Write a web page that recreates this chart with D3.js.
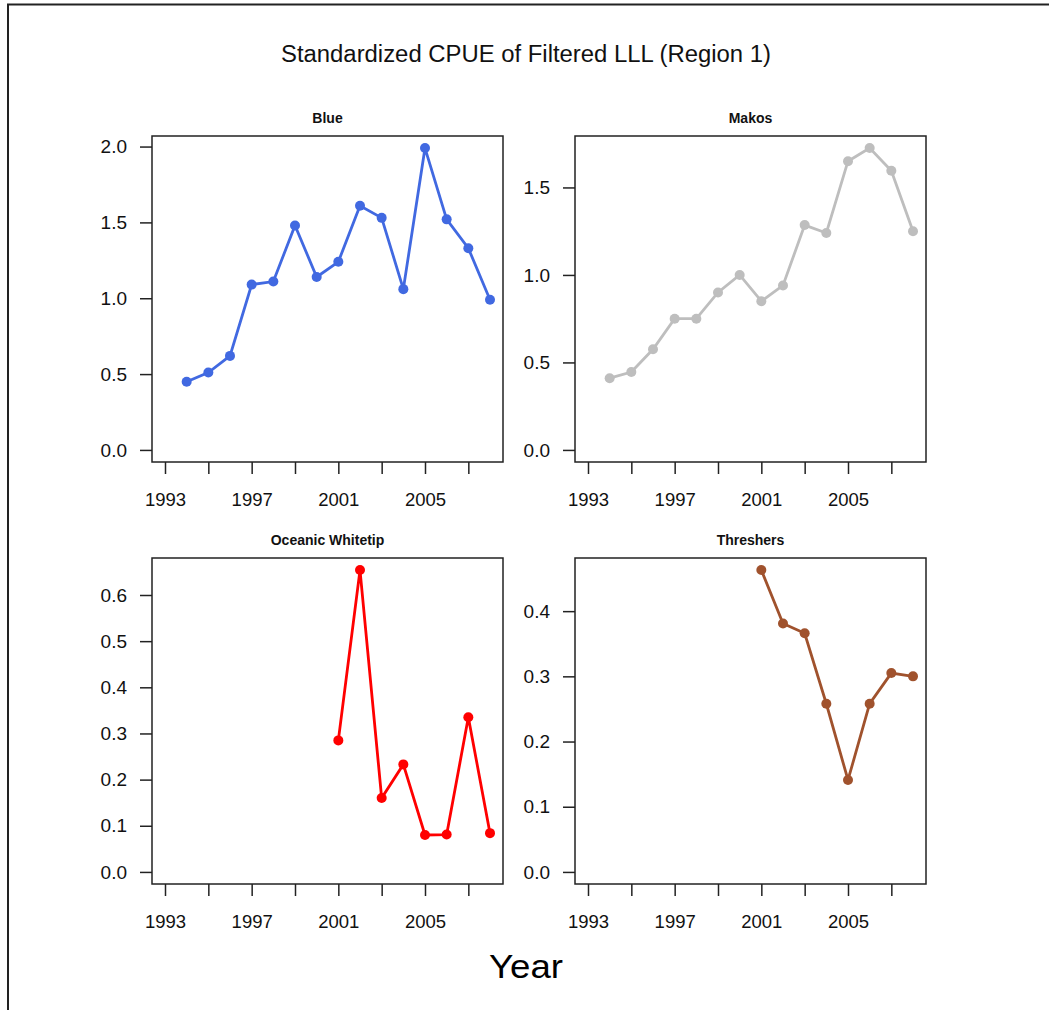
<!DOCTYPE html>
<html>
<head>
<meta charset="utf-8">
<script src="https://cdn.jsdelivr.net/npm/d3@7"></script>
<style>
    body { margin: 0; background: #fff; }
    svg { display: block; font-family: 'Liberation Sans', Arial, sans-serif; }
</style>
</head>
<body>
<div id="chart"></div>
<script>
// Data
const panelNames = ['Blue', 'Makos', 'Oceanic Whitetip', 'Threshers'];
const panelColors = ['#4169E1', '#BEBEBE', '#FF0000', '#A0522D'];

const blueYears = [1994, 1995, 1996, 1997, 1998, 1999, 2000, 2001, 2002, 2003, 2004, 2005, 2006, 2007, 2008];
const blueValues = [0.45, 0.51, 0.62, 1.09, 1.11, 1.48, 1.14, 1.24, 1.61, 1.53, 1.06, 1.99, 1.52, 1.33, 0.99];

const makosYears = [1994, 1995, 1996, 1997, 1998, 1999, 2000, 2001, 2002, 2003, 2004, 2005, 2006, 2007, 2008];
const makosValues = [0.41, 0.445, 0.575, 0.75, 0.75, 0.90, 1.00, 0.85, 0.94, 1.285, 1.24, 1.65, 1.725, 1.595, 1.25];

const whitetipYears = [2001, 2002, 2003, 2004, 2005, 2006, 2007, 2008];
const whitetipValues = [0.285, 0.654, 0.160, 0.233, 0.080, 0.081, 0.335, 0.084];

const threshersYears = [2001, 2002, 2003, 2004, 2005, 2006, 2007, 2008];
const threshersValues = [0.463, 0.381, 0.366, 0.258, 0.141, 0.258, 0.305, 0.300];

const yTicks = [
    [0, 0.5, 1.0, 1.5, 2.0],
    [0, 0.5, 1.0, 1.5],
    [0, 0.1, 0.2, 0.3, 0.4, 0.5, 0.6],
    [0, 0.1, 0.2, 0.3, 0.4]
];
const xTicks = [1993, 1995, 1997, 1999, 2001, 2003, 2005, 2007];
const xTickLabels = [1993, 1997, 2001, 2005];
const xLimits = [1993, 2008];

const mainTitle = 'Standardized CPUE of Filtered LLL (Region 1)';
const xAxisTitle = 'Year';

const series = [
    { years: blueYears, values: blueValues },
    { years: makosYears, values: makosValues },
    { years: whitetipYears, values: whitetipValues },
    { years: threshersYears, values: threshersValues }
];

// SVG container
const width = 1049, height = 1010;
const svg = d3.select('#chart')
    .append('svg')
    .attr('width', width)
    .attr('height', height);

// Outer frame (only top and left edges show in the picture)
svg.append('rect')
    .attr('x', 8)
    .attr('y', 4.5)
    .attr('width', width + 20)
    .attr('height', height + 20)
    .attr('fill', 'none')
    .attr('stroke', '#222')
    .attr('stroke-width', 2);

// Main title
svg.append('text')
    .attr('x', 526)
    .attr('y', 62)
    .attr('text-anchor', 'middle')
    .attr('font-size', 23)
    .attr('fill', '#111')
    .attr('textLength', 490)
    .attr('lengthAdjust', 'spacingAndGlyphs')
    .text(mainTitle);

// Bottom axis title
svg.append('text')
    .attr('x', 526)
    .attr('y', 978)
    .attr('text-anchor', 'middle')
    .attr('font-size', 34)
    .attr('fill', '#000')
    .attr('textLength', 74)
    .attr('lengthAdjust', 'spacingAndGlyphs')
    .text(xAxisTitle);

// Panel geometry
const colLeft = [152, 575];
const rowTop = [136, 558];
const panelW = 351, panelH = 326;

// Pad axis limits by 4% like R does
const pad = (lo, hi) => [lo - (hi - lo) * 0.04, hi + (hi - lo) * 0.04];

series.forEach((s, i) => {
    const g = svg.append('g')
        .attr('transform', `translate(${colLeft[i % 2]}, ${rowTop[Math.floor(i / 2)]})`);

    const xScale = d3.scaleLinear()
        .domain(pad(xLimits[0], xLimits[1]))
        .range([0, panelW]);
    const yScale = d3.scaleLinear()
        .domain(pad(0, d3.max(s.values)))
        .range([panelH, 0]);

    // X axis
    const xAxis = g.append('g')
        .attr('transform', `translate(0, ${panelH})`)
        .call(d3.axisBottom(xScale)
            .tickValues(xTicks)
            .tickSize(12)
            .tickPadding(19)
            .tickFormat(d => xTickLabels.includes(d) ? d : ''));
    xAxis.select('.domain').remove();
    xAxis.selectAll('line').attr('stroke', '#222').attr('stroke-width', 1.5);
    xAxis.selectAll('text')
        .attr('font-size', 18.5)
        .attr('font-family', "'Liberation Sans', Arial, sans-serif")
        .attr('fill', '#111');

    // Y axis
    const yAxis = g.append('g')
        .call(d3.axisLeft(yScale)
            .tickValues(yTicks[i])
            .tickSize(12)
            .tickPadding(13)
            .tickFormat(d3.format('.1f')));
    yAxis.select('.domain').remove();
    yAxis.selectAll('line').attr('stroke', '#222').attr('stroke-width', 1.5);
    yAxis.selectAll('text')
        .attr('font-size', 19)
        .attr('font-family', "'Liberation Sans', Arial, sans-serif")
        .attr('fill', '#111');

    // Plot box
    g.append('rect')
        .attr('width', panelW)
        .attr('height', panelH)
        .attr('fill', 'none')
        .attr('stroke', '#222')
        .attr('stroke-width', 1.5);

    // Panel title
    g.append('text')
        .attr('x', panelW / 2)
        .attr('y', -13)
        .attr('text-anchor', 'middle')
        .attr('font-size', 14)
        .attr('font-weight', 'bold')
        .attr('fill', '#111')
        .text(panelNames[i]);

    const pts = s.years.map((y, j) => ({ year: y, value: s.values[j] }));

    // Line
    g.append('path')
        .datum(pts)
        .attr('fill', 'none')
        .attr('stroke', panelColors[i])
        .attr('stroke-width', 2.8)
        .attr('d', d3.line()
            .x(d => xScale(d.year))
            .y(d => yScale(d.value)));

    // Points
    g.selectAll('.dot')
        .data(pts)
        .join('circle')
            .attr('class', 'dot')
            .attr('cx', d => xScale(d.year))
            .attr('cy', d => yScale(d.value))
            .attr('r', 5)
            .attr('fill', panelColors[i]);
});
</script>
</body>
</html>
